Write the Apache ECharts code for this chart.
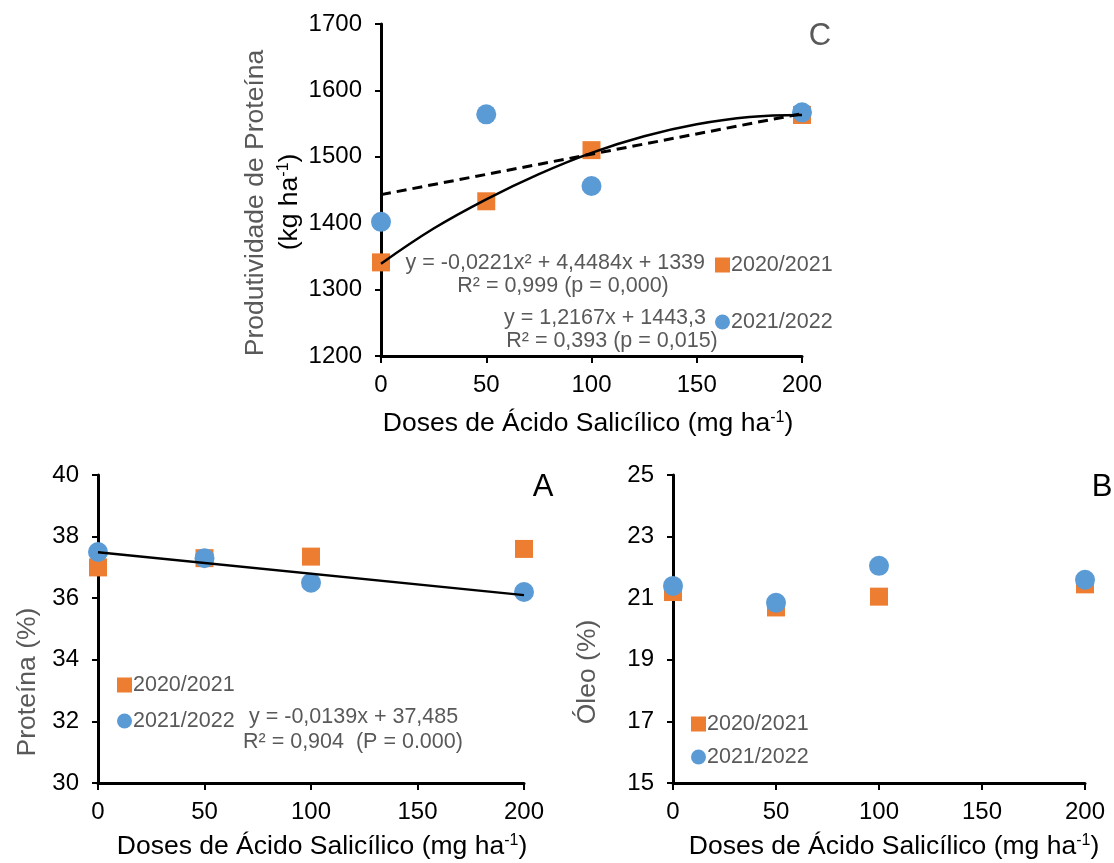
<!DOCTYPE html>
<html>
<head>
<meta charset="utf-8">
<script src="https://cdn.jsdelivr.net/npm/echarts@6/dist/echarts.min.js"></script>
<style>
  html, body { margin: 0; padding: 0; background: #ffffff; }
  #chart { width: 1114px; height: 863px; }
</style>
</head>
<body>
<div id="chart"></div>
<script>
// ---------- data ----------
const doses = [0, 50, 100, 200];
const xTicks = [0, 50, 100, 150, 200];

// Panel C: protein yield (kg ha-1)
const yield2021 = [1341, 1433, 1510, 1563];
const yield2022 = [1402, 1564, 1456, 1567];
const yieldQuadTrendX = [0, 25, 50, 75, 100, 125, 150, 175, 200];
const yieldQuadTrendY = [1339, 1392, 1436, 1474, 1506, 1531, 1549, 1560, 1563];
const yieldLinTrendX = [0, 200];
const yieldLinTrendY = [1443, 1565];

// Panel A: protein (%)
const protein2021 = [37.0, 37.3, 37.35, 37.6];
const protein2022 = [37.5, 37.3, 36.5, 36.2];
const proteinTrendX = [0, 200];
const proteinTrendY = [37.49, 36.1];

// Panel B: oil (%)
const oil2021 = [21.2, 20.7, 21.05, 21.45];
const oil2022 = [21.4, 20.85, 22.05, 21.6];

const seriesNames = ['2020/2021', '2021/2022'];
const panelLetters = ['C', 'A', 'B'];

// ---------- helpers ----------
const FONT = '"Liberation Sans", Arial, sans-serif';
const ORANGE = '#ED7D31';
const BLUE = '#5B9BD5';
const GRAY = '#595959';
const TICK_FS = 24;
const NAME_FS = 26.5;
const NOTE_FS = 21.5;
const zip = (xs, ys) => xs.map((x, i) => [x, ys[i]]);

function xAxis(gridIndex) {
  return {
    gridIndex, type: 'value', min: 0, max: 200, interval: 50,
    axisLine: { show: true, lineStyle: { color: '#000', width: 3 } },
    axisTick: { show: true, inside: false, length: 7, lineStyle: { color: '#000', width: 2 } },
    axisLabel: { color: '#000', fontSize: TICK_FS, fontFamily: FONT, margin: 17, formatter: v => String(v) },
    splitLine: { show: false }
  };
}
function yAxis(gridIndex, min, max, interval) {
  return {
    gridIndex, type: 'value', min, max, interval,
    axisLine: { show: true, lineStyle: { color: '#000', width: 3 } },
    axisTick: { show: true, inside: false, length: 6, lineStyle: { color: '#000', width: 2 } },
    axisLabel: { color: '#000', fontSize: TICK_FS, fontFamily: FONT, margin: 19, formatter: v => String(v) },
    splitLine: { show: false }
  };
}
function scatter(name, idx, data, isSquare) {
  return {
    name, type: 'scatter', xAxisIndex: idx, yAxisIndex: idx,
    data, symbol: isSquare ? 'rect' : 'circle',
    symbolSize: isSquare ? 18 : 20,
    itemStyle: { color: isSquare ? ORANGE : BLUE, opacity: 1 },
    z: isSquare ? 2 : 3, silent: true
  };
}
function trend(idx, data, dashed, smooth) {
  return {
    type: 'line', xAxisIndex: idx, yAxisIndex: idx, data,
    showSymbol: false, symbol: 'none', smooth: smooth ? 0.4 : false,
    lineStyle: { color: '#000', width: dashed ? 3 : 2.5, type: dashed ? [10, 6] : 'solid' },
    z: 5, silent: true
  };
}
const supRich = {
  a: { fontSize: NAME_FS, fontFamily: FONT, color: '#000' },
  g: { fontSize: NAME_FS, fontFamily: FONT, color: GRAY },
  s: { fontSize: 16, fontFamily: FONT, color: '#000', padding: [0, 0, 13, 0] },
  sg: { fontSize: 16, fontFamily: FONT, color: GRAY, padding: [0, 0, 13, 0] }
};
function xName(x, y) {
  return {
    type: 'text', x, y,
    style: {
      text: '{a|Doses de Ácido Salicílico (mg ha}{s|-1}{a|)}',
      rich: supRich, align: 'center', verticalAlign: 'middle'
    }
  };
}
function grayText(text, x, y, align) {
  return {
    type: 'text', x, y,
    style: { text, fill: GRAY, fontSize: NOTE_FS, fontFamily: FONT, align: align || 'left', verticalAlign: 'middle' }
  };
}
function rotText(text, x, y, rich) {
  const st = rich
    ? { text, rich: supRich, align: 'center', verticalAlign: 'middle' }
    : { text, fill: GRAY, fontSize: NAME_FS, fontFamily: FONT, align: 'center', verticalAlign: 'middle' };
  return { type: 'text', x, y, rotation: Math.PI / 2, style: st };
}
function legend(items, left, top, gap) {
  return {
    orient: 'vertical', left, top, itemGap: gap,
    itemWidth: 15, itemHeight: 15, selectedMode: false,
    textStyle: { color: GRAY, fontSize: NOTE_FS, fontFamily: FONT, padding: [0, 0, 0, -4] },
    data: items.map(n => ({ name: n, icon: n === seriesNames[0] ? 'rect' : 'circle' }))
  };
}

const option = {
  animation: false,
  backgroundColor: '#fff',
  grid: [
    { left: 381, top: 24, width: 421, height: 332 },
    { left: 98, top: 475, width: 426, height: 308 },
    { left: 673, top: 475, width: 412, height: 308 }
  ],
  xAxis: [xAxis(0), xAxis(1), xAxis(2)],
  yAxis: [yAxis(0, 1200, 1700, 100), yAxis(1, 30, 40, 2), yAxis(2, 15, 25, 2)],
  legend: [
    legend([seriesNames[0]], 710, 249, 10),
    legend([seriesNames[1]], 710, 306, 10),
    legend(seriesNames, 112, 669, 14),
    legend(seriesNames, 686, 708, 11)
  ],
  series: [
    scatter(seriesNames[0], 0, zip(doses, yield2021), true),
    scatter(seriesNames[1], 0, zip(doses, yield2022), false),
    trend(0, zip(yieldQuadTrendX, yieldQuadTrendY), false, true),
    trend(0, zip(yieldLinTrendX, yieldLinTrendY), true, false),
    scatter(seriesNames[0], 1, zip(doses, protein2021), true),
    scatter(seriesNames[1], 1, zip(doses, protein2022), false),
    trend(1, zip(proteinTrendX, proteinTrendY), false, false),
    scatter(seriesNames[0], 2, zip(doses, oil2021), true),
    scatter(seriesNames[1], 2, zip(doses, oil2022), false)
  ],
  graphic: [
    // panel letters
    { type: 'text', x: 820, y: 36, style: { text: panelLetters[0], fill: GRAY, fontSize: 31, fontFamily: FONT, align: 'center', verticalAlign: 'middle' } },
    { type: 'text', x: 543, y: 487, style: { text: panelLetters[1], fill: '#000', fontSize: 31, fontFamily: FONT, align: 'center', verticalAlign: 'middle' } },
    { type: 'text', x: 1102, y: 487, style: { text: panelLetters[2], fill: '#000', fontSize: 31, fontFamily: FONT, align: 'center', verticalAlign: 'middle' } },
    // x-axis names
    xName(588, 424),
    xName(322, 847),
    xName(894, 847),
    // y-axis names
    rotText('Produtividade de Proteína', 256, 203, false),
    rotText('{g|(kg ha}{sg|-1}{g|)}', 290, 202, true),
    rotText('Proteína (%)', 28, 682, false),
    rotText('Óleo (%)', 588, 672, false),
    // equations, panel C
    grayText('y = -0,0221x² + 4,4484x + 1339', 705, 263, 'right'),
    grayText('R² = 0,999 (p = 0,000)', 563, 286, 'center'),
    grayText('y = 1,2167x + 1443,3', 706, 318, 'right'),
    grayText('R² = 0,393 (p = 0,015)', 612, 341, 'center'),
    // equation, panel A
    grayText('y = -0,0139x + 37,485', 249, 717, 'left'),
    grayText('R² = 0,904  (P = 0.000)', 243, 742, 'left')
  ]
};

const chart = echarts.init(document.getElementById('chart'), null, { renderer: 'canvas' });
chart.setOption(option);
</script>
</body>
</html>
